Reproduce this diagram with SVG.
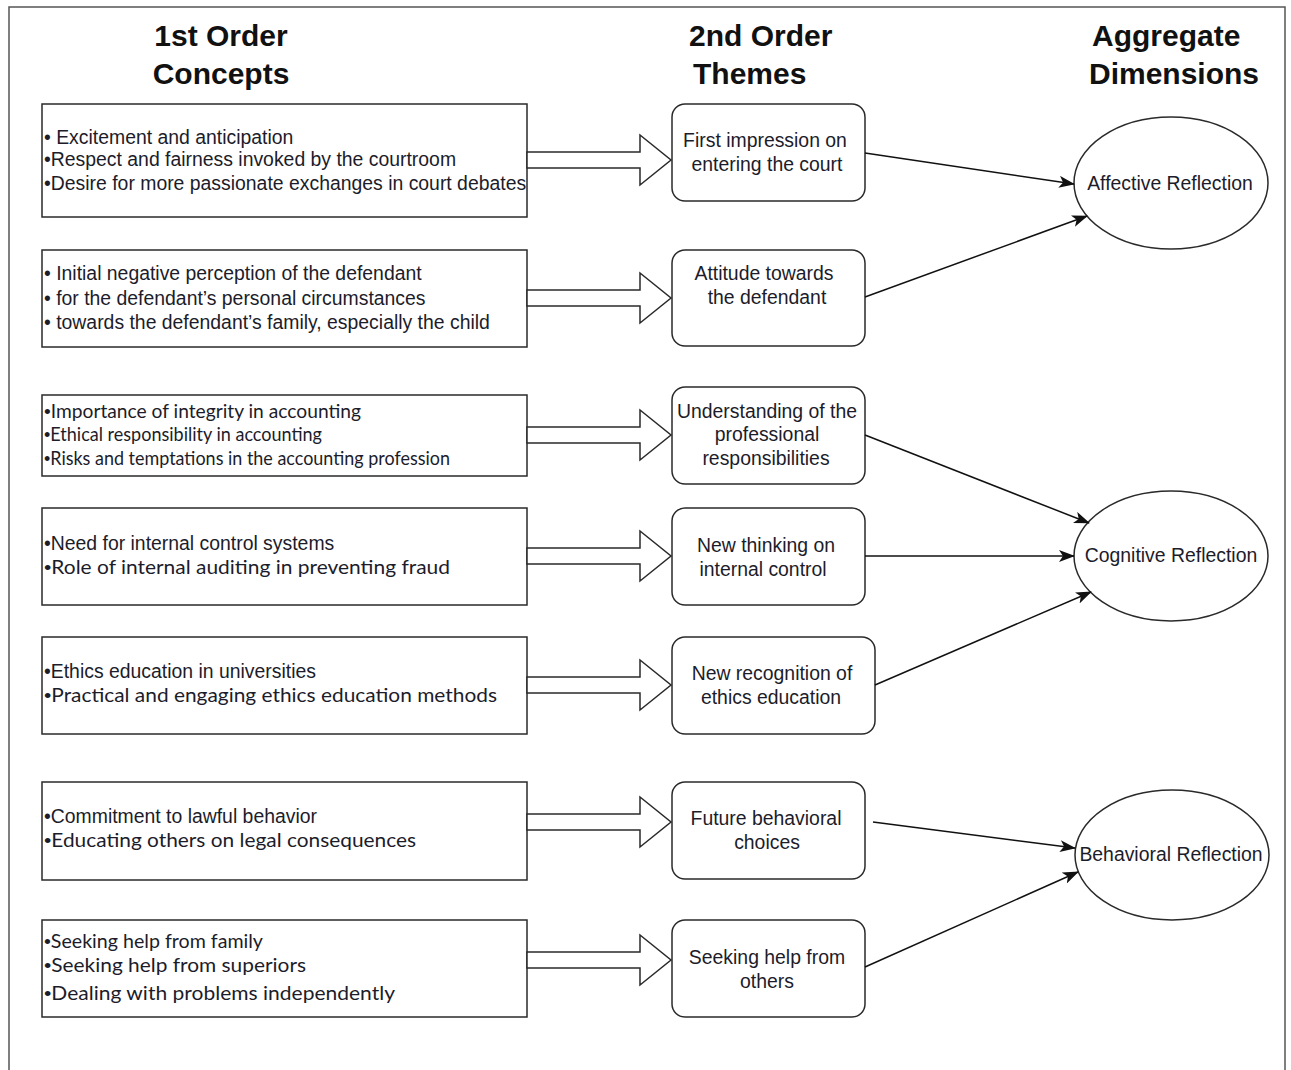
<svg xmlns="http://www.w3.org/2000/svg" width="1291" height="1070" viewBox="0 0 1291 1070">
<defs>
<style>
.frame{fill:none;stroke:#555;stroke-width:1.5}
.box{fill:#fff;stroke:#2a2a2a;stroke-width:1.5}
.theme{fill:#fff;stroke:#2a2a2a;stroke-width:1.5}
.dim{fill:#fff;stroke:#2a2a2a;stroke-width:1.5}
.barrow{fill:#fff;stroke:#2a2a2a;stroke-width:1.5;stroke-linejoin:miter}
.conn{fill:none;stroke:#111;stroke-width:1.5}
.hdr{font-family:"Liberation Sans",Arial,sans-serif;font-weight:bold;font-size:30px;fill:#111}
.t{font-family:"Liberation Sans",Arial,sans-serif;font-size:19.4px;fill:#1c1c2a}
.c{font-family:Lato,"Liberation Sans",sans-serif;font-size:19px;fill:#1c1c2a}
.b{font-family:"Liberation Sans",Arial,sans-serif}
.m{text-anchor:middle}
</style>
<marker id="ah" viewBox="0 0 16 12" refX="15" refY="6" markerWidth="16" markerHeight="12" markerUnits="userSpaceOnUse" orient="auto">
<path d="M0,0 L16,6 L0,12 L4,6 z" fill="#111"/>
</marker>
</defs>
<rect width="1291" height="1070" fill="#fff"/>
<path class="frame" d="M9,1070 V7 H1285 V1070"/>

<g id="headers">
<text class="hdr m" x="221" y="46">1st Order</text>
<text class="hdr m" x="221" y="84">Concepts</text>
<text class="hdr" x="689" y="46">2nd Order</text>
<text class="hdr" x="693" y="84">Themes</text>
<text class="hdr" x="1092" y="46">Aggregate</text>
<text class="hdr" x="1089" y="84">Dimensions</text>
</g>

<g id="concept1">
<rect class="box" x="42" y="104" width="485" height="113"/>
<text class="t" x="44" y="144">• Excitement and anticipation</text>
<text class="t" x="44" y="166">•Respect and fairness invoked by the courtroom</text>
<text class="t" x="44" y="190">•Desire for more passionate exchanges in court debates</text>
</g>
<g id="concept2">
<rect class="box" x="42" y="250" width="485" height="97"/>
<text class="t" x="44" y="280">• Initial negative perception of the defendant</text>
<text class="t" x="44" y="305">• for the defendant’s personal circumstances</text>
<text class="t" x="44" y="329">• towards the defendant’s family, especially the child</text>
</g>
<g id="concept3">
<rect class="box" x="42" y="395" width="485" height="81"/>
<text class="c" x="44" y="418" font-size="20" textLength="317" lengthAdjust="spacingAndGlyphs"><tspan class="b">•</tspan>Importance of integrity in accounting</text>
<text class="c" x="44" y="441" font-size="17" textLength="278" lengthAdjust="spacingAndGlyphs"><tspan class="b">•</tspan>Ethical responsibility in accounting</text>
<text class="c" x="44" y="465" font-size="17" textLength="406" lengthAdjust="spacingAndGlyphs"><tspan class="b">•</tspan>Risks and temptations in the accounting profession</text>
</g>
<g id="concept4">
<rect class="box" x="42" y="508" width="485" height="97"/>
<text class="t" x="44" y="550">•Need for internal control systems</text>
<text class="c" x="44" y="574" font-size="20" textLength="406" lengthAdjust="spacingAndGlyphs"><tspan class="b">•</tspan>Role of internal auditing in preventing fraud</text>
</g>
<g id="concept5">
<rect class="box" x="42" y="637" width="485" height="97"/>
<text class="t" x="44" y="678">•Ethics education in universities</text>
<text class="c" x="44" y="702" font-size="20" textLength="453" lengthAdjust="spacingAndGlyphs"><tspan class="b">•</tspan>Practical and engaging ethics education methods</text>
</g>
<g id="concept6">
<rect class="box" x="42" y="782" width="485" height="98"/>
<text class="t" x="44" y="823">•Commitment to lawful behavior</text>
<text class="c" x="44" y="847" font-size="20" textLength="372" lengthAdjust="spacingAndGlyphs"><tspan class="b">•</tspan>Educating others on legal consequences</text>
</g>
<g id="concept7">
<rect class="box" x="42" y="920" width="485" height="97"/>
<text class="c" x="44" y="948" font-size="20" textLength="219" lengthAdjust="spacingAndGlyphs"><tspan class="b">•</tspan>Seeking help from family</text>
<text class="c" x="44" y="972" font-size="20" textLength="262" lengthAdjust="spacingAndGlyphs"><tspan class="b">•</tspan>Seeking help from superiors</text>
<text class="c" x="44" y="1000" font-size="20" textLength="351" lengthAdjust="spacingAndGlyphs"><tspan class="b">•</tspan>Dealing with problems independently</text>
</g>

<g id="theme1">
<rect class="theme" x="672" y="104" width="193" height="97" rx="13"/>
<text class="t m" x="765" y="147">First impression on</text>
<text class="t m" x="767" y="171">entering the court</text>
</g>
<g id="theme2">
<rect class="theme" x="672" y="250" width="193" height="96" rx="13"/>
<text class="t m" x="764" y="280">Attitude towards</text>
<text class="t m" x="767" y="304">the defendant</text>
</g>
<g id="theme3">
<rect class="theme" x="672" y="387" width="193" height="97" rx="13"/>
<text class="t m" x="767" y="418">Understanding of the</text>
<text class="t m" x="767" y="441">professional</text>
<text class="t m" x="766" y="465">responsibilities</text>
</g>
<g id="theme4">
<rect class="theme" x="672" y="508" width="193" height="97" rx="13"/>
<text class="t m" x="766" y="552">New thinking on</text>
<text class="t m" x="763" y="576">internal control</text>
</g>
<g id="theme5">
<rect class="theme" x="672" y="637" width="203" height="97" rx="13"/>
<text class="t m" x="772" y="680">New recognition of</text>
<text class="t m" x="771" y="704">ethics education</text>
</g>
<g id="theme6">
<rect class="theme" x="672" y="782" width="193" height="97" rx="13"/>
<text class="t m" x="766" y="825">Future behavioral</text>
<text class="t m" x="767" y="849">choices</text>
</g>
<g id="theme7">
<rect class="theme" x="672" y="920" width="193" height="97" rx="13"/>
<text class="t m" x="767" y="964">Seeking help from</text>
<text class="t m" x="767" y="988">others</text>
</g>

<g id="dim1">
<ellipse class="dim" cx="1171" cy="183" rx="97" ry="66"/>
<text class="t m" x="1170" y="190">Affective Reflection</text>
</g>
<g id="dim2">
<ellipse class="dim" cx="1171" cy="556" rx="97" ry="65"/>
<text class="t m" x="1171" y="562">Cognitive Reflection</text>
</g>
<g id="dim3">
<ellipse class="dim" cx="1172" cy="855" rx="97" ry="65"/>
<text class="t m" x="1171" y="861">Behavioral Reflection</text>
</g>

<g id="connectors">
<polygon class="barrow" points="527,152 640,152 640,135 671,160 640,185 640,168 527,168"/>
<polygon class="barrow" points="527,290 640,290 640,273 671,298 640,323 640,306 527,306"/>
<polygon class="barrow" points="527,427 640,427 640,410 671,435 640,460 640,443 527,443"/>
<polygon class="barrow" points="527,548 640,548 640,531 671,556 640,581 640,564 527,564"/>
<polygon class="barrow" points="527,677 640,677 640,660 671,685 640,710 640,693 527,693"/>
<polygon class="barrow" points="527,814 640,814 640,797 671,822 640,847 640,830 527,830"/>
<polygon class="barrow" points="527,952 640,952 640,935 671,960 640,985 640,968 527,968"/>
<line class="conn" x1="865" y1="153" x2="1074" y2="184" marker-end="url(#ah)"/>
<line class="conn" x1="865" y1="297" x2="1087" y2="216" marker-end="url(#ah)"/>
<line class="conn" x1="865" y1="435" x2="1089" y2="523" marker-end="url(#ah)"/>
<line class="conn" x1="865" y1="556" x2="1074" y2="556" marker-end="url(#ah)"/>
<line class="conn" x1="875" y1="685" x2="1091" y2="592" marker-end="url(#ah)"/>
<line class="conn" x1="873" y1="822" x2="1075" y2="848" marker-end="url(#ah)"/>
<line class="conn" x1="865" y1="967" x2="1078" y2="872" marker-end="url(#ah)"/>
</g>
</svg>
